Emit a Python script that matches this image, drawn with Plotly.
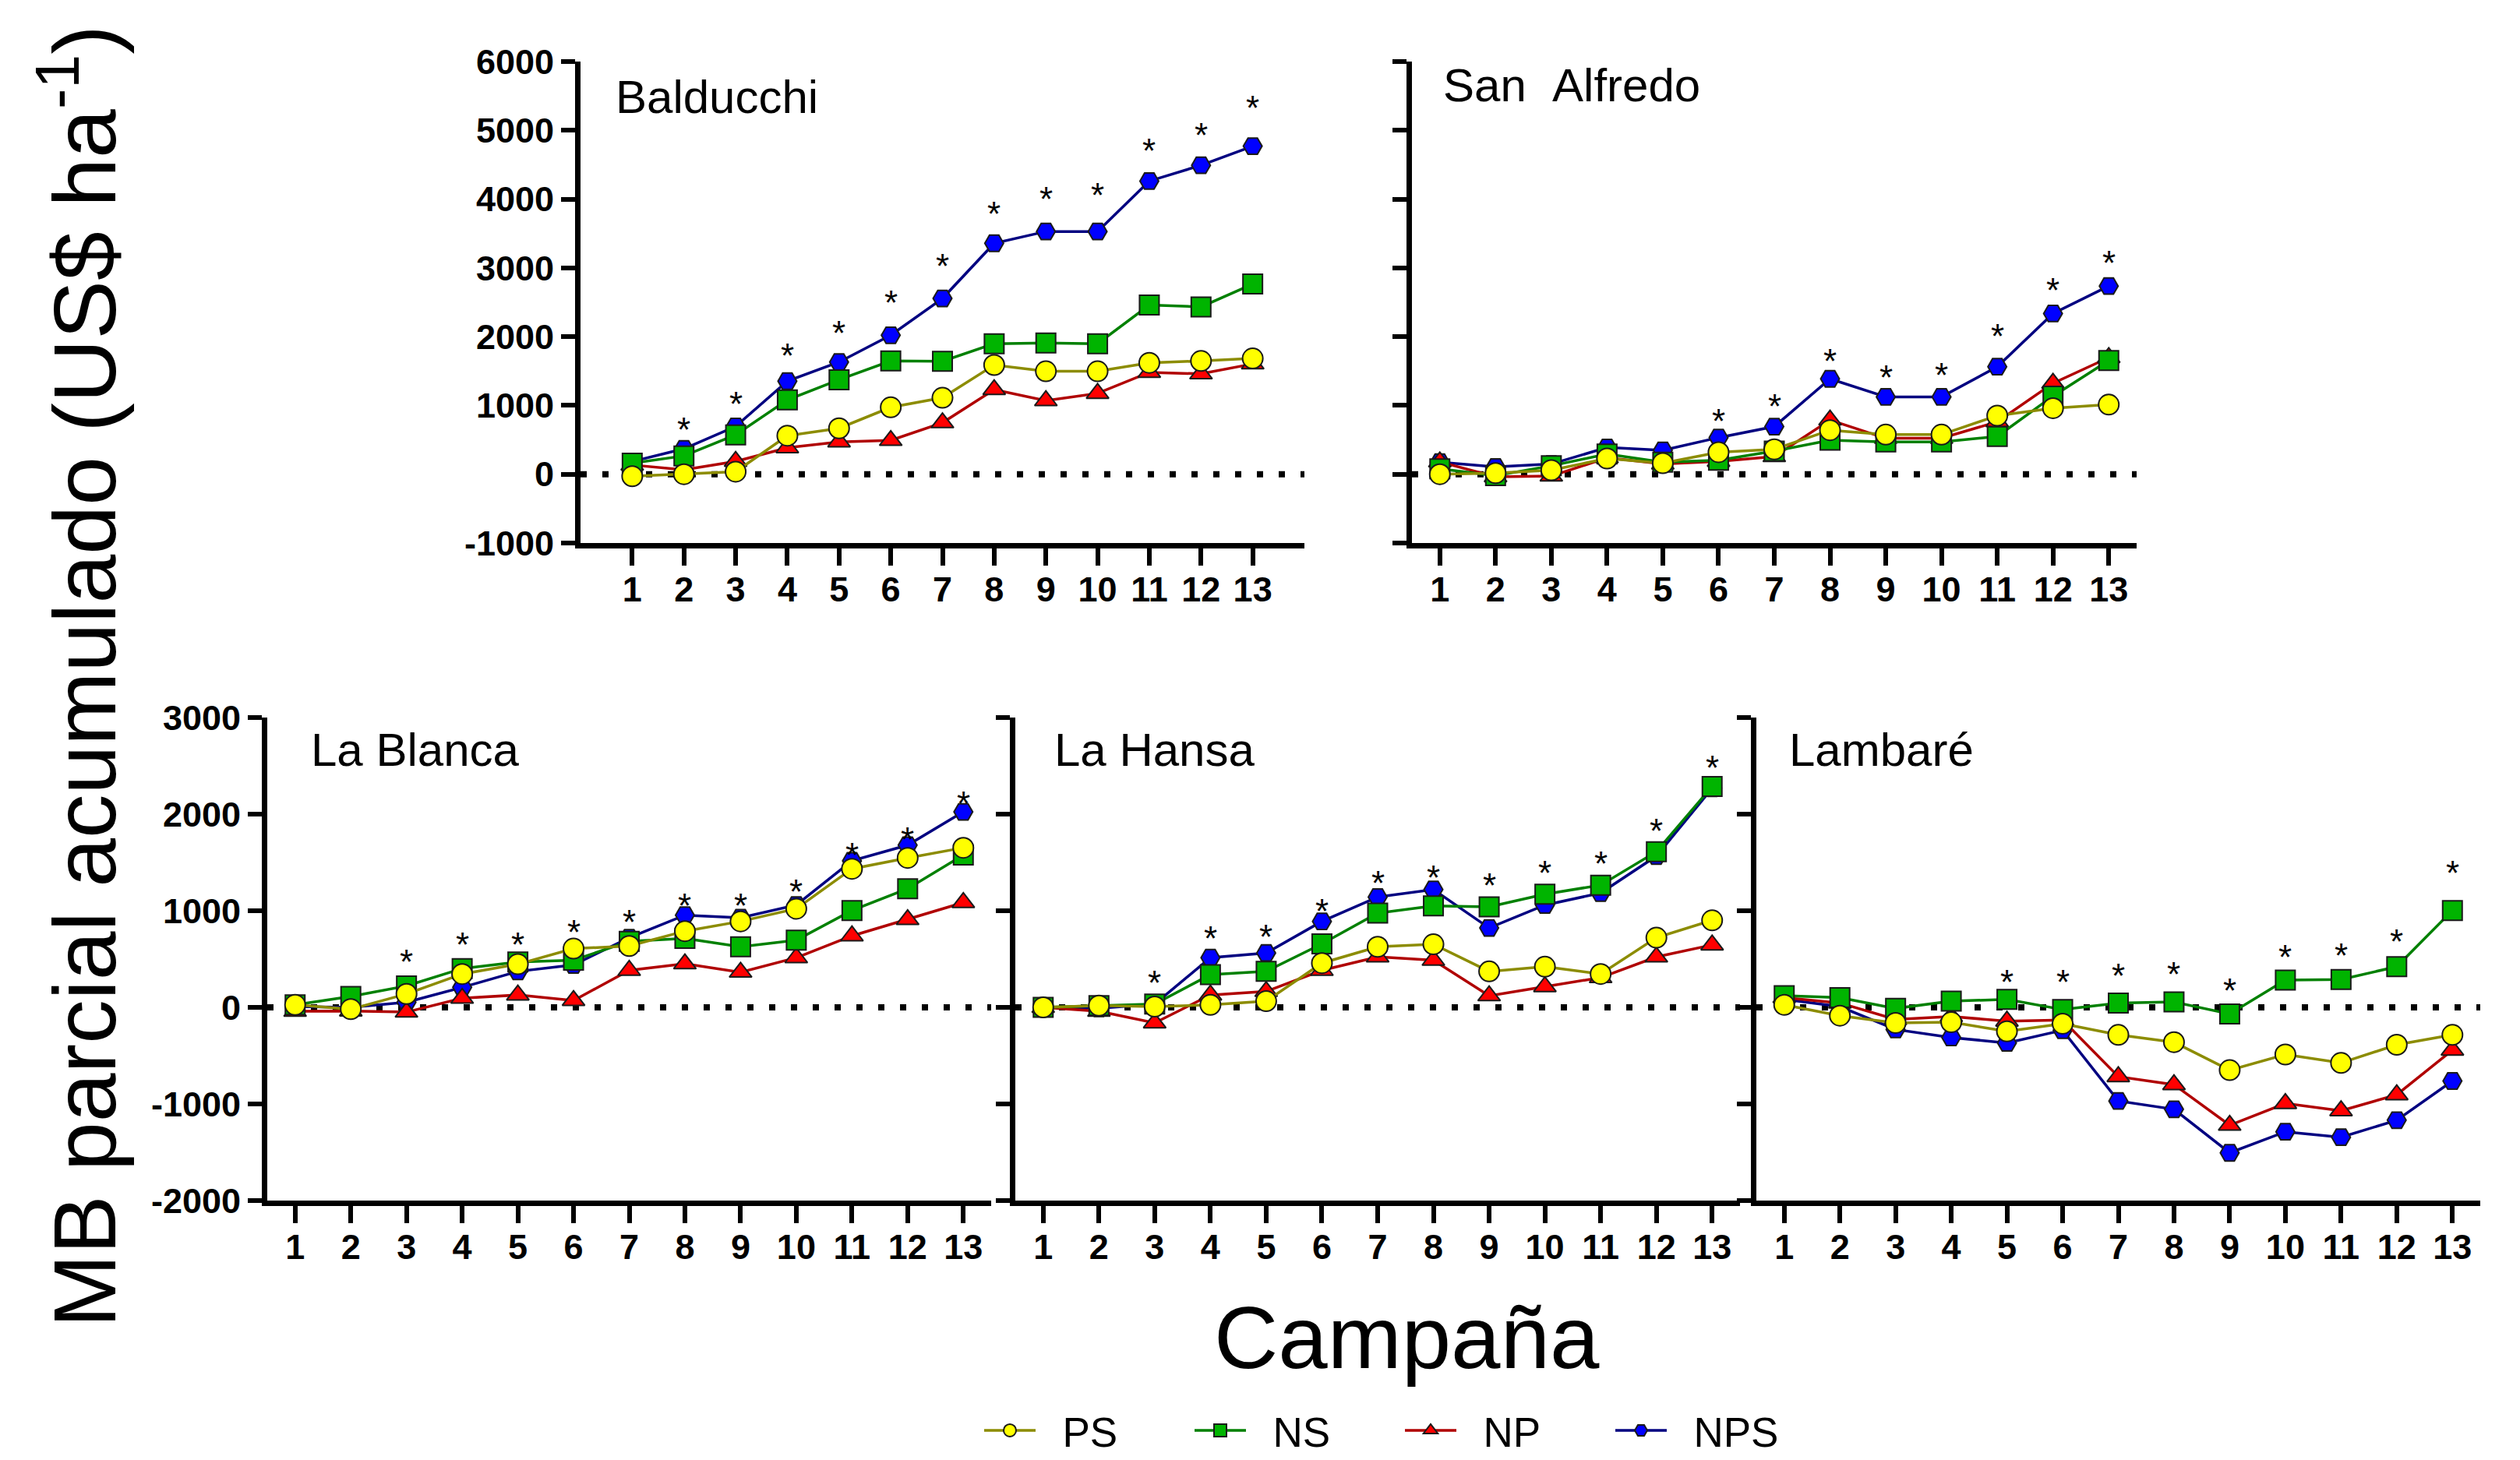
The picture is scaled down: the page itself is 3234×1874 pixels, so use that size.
import plotly.graph_objects as go

# ---------------- data ----------------
campana = list(range(1, 14))

top_yticks = [-1000, 0, 1000, 2000, 3000, 4000, 5000, 6000]
bottom_yticks = [-2000, -1000, 0, 1000, 2000, 3000]

# Balducchi
bal_PS = [-30, 0, 37, 561, 668, 973, 1112, 1588, 1497, 1497, 1620, 1647, 1684]
bal_NS = [160, 267, 572, 1080, 1374, 1647, 1642, 1898, 1909, 1898, 2460, 2433, 2765]
bal_NP = [134, 64, 187, 385, 470, 492, 749, 1230, 1070, 1176, 1481, 1460, 1604]
bal_NPS = [185, 370, 695, 1353, 1631, 2021, 2556, 3358, 3529, 3529, 4262, 4492, 4770]
bal_star_x = [2, 3, 4, 5, 6, 7, 8, 9, 10, 11, 12, 13]
bal_star_y = [765, 1134, 1834, 2166, 2604, 3144, 3904, 4118, 4176, 4813, 5043, 5444]

# San Alfredo
sa_PS = [0, 16, 59, 229, 160, 320, 363, 640, 576, 576, 853, 960, 1013]
sa_NS = [80, -21, 123, 293, 176, 203, 336, 496, 469, 469, 549, 1136, 1653]
sa_NP = [180, -37, -27, 240, 149, 187, 256, 789, 523, 523, 763, 1323, 1696]
sa_NPS = [176, 107, 149, 389, 347, 533, 693, 1387, 1125, 1125, 1563, 2336, 2736]
sa_star_x = [6, 7, 8, 9, 10, 11, 12, 13]
sa_star_y = [885, 1099, 1760, 1520, 1552, 2117, 2789, 3189]

# La Blanca
lb_PS = [26, -19, 139, 345, 447, 608, 635, 789, 890, 1021, 1434, 1547, 1652]
lb_NS = [26, 113, 222, 402, 469, 488, 683, 713, 627, 695, 1003, 1228, 1577]
lb_NP = [-41, -38, -49, 94, 128, 71, 383, 451, 364, 514, 740, 909, 1085]
lb_NPS = [8, 0, 53, 207, 372, 439, 721, 954, 928, 1059, 1517, 1679, 2024]
lb_star_x = [3, 4, 5, 6, 7, 8, 9, 10, 11, 12, 13]
lb_star_y = [552, 728, 728, 860, 965, 1134, 1134, 1277, 1660, 1817, 2186]

# La Hansa
lh_PS = [0, 19, 8, 26, 64, 458, 627, 653, 372, 421, 345, 721, 901]
lh_NS = [0, 19, 34, 338, 372, 657, 976, 1051, 1040, 1172, 1265, 1611, 2287]
lh_NP = [0, -41, -161, 128, 165, 383, 522, 488, 120, 214, 308, 522, 646]
lh_NPS = [0, -11, 34, 514, 563, 890, 1142, 1220, 822, 1059, 1183, 1566, 2268]
lh_star_x = [3, 4, 5, 6, 7, 8, 9, 10, 11, 12, 13]
lh_star_y = [338, 796, 807, 1078, 1371, 1423, 1341, 1472, 1566, 1904, 2561]

# Lambaré
lm_PS = [26, -86, -161, -154, -248, -169, -285, -360, -650, -488, -575, -387, -285]
lm_NS = [120, 101, -11, 64, 83, -23, 45, 56, -68, 282, 289, 421, 1003]
lm_NP = [101, 45, -124, -94, -143, -131, -717, -800, -1220, -995, -1070, -905, -443]
lm_NPS = [83, 8, -229, -312, -368, -237, -969, -1055, -1506, -1288, -1344, -1168, -762]
lm_star_x = [5, 6, 7, 8, 9, 10, 11, 12, 13]
lm_star_y = [345, 345, 409, 421, 252, 601, 620, 759, 1472]

# ---------------- layout helpers ----------------
OFF = 8  # default body margin of the html page
W, H = 3234, 1874


def fx(p):
    return (p - OFF) / W


def fy(p):
    return 1 - (p - OFF) / H


FONT = "Liberation Sans, Arial, sans-serif"

panels = [
    dict(title="Balducchi", PS=bal_PS, NS=bal_NS, NP=bal_NP, NPS=bal_NPS,
         sx=bal_star_x, sy=bal_star_y, xd=(745, 1674), yd=(697, 79),
         xr=[0, 14], yt=top_yticks, labels=True, tpos=(788, 124)),
    dict(title="San\u00a0\u00a0Alfredo", PS=sa_PS, NS=sa_NS, NP=sa_NP, NPS=sa_NPS,
         sx=sa_star_x, sy=sa_star_y, xd=(1812, 2742), yd=(697, 79),
         xr=[0.5, 13.5], yt=top_yticks, labels=False, tpos=(1850, 110)),
    dict(title="La Blanca", PS=lb_PS, NS=lb_NS, NP=lb_NP, NPS=lb_NPS,
         sx=lb_star_x, sy=lb_star_y, xd=(343, 1272), yd=(1541, 921),
         xr=[0.5, 13.5], yt=bottom_yticks, labels=True, tpos=(397, 962)),
    dict(title="La Hansa", PS=lh_PS, NS=lh_NS, NP=lh_NP, NPS=lh_NPS,
         sx=lh_star_x, sy=lh_star_y, xd=(1303, 2233), yd=(1541, 921),
         xr=[0.5, 13.5], yt=bottom_yticks, labels=False, tpos=(1351, 962)),
    dict(title="Lambaré", PS=lm_PS, NS=lm_NS, NP=lm_NP, NPS=lm_NPS,
         sx=lm_star_x, sy=lm_star_y, xd=(2254, 3183), yd=(1541, 921),
         xr=[0.5, 13.5], yt=bottom_yticks, labels=False, tpos=(2294, 962)),
]

# drawing order bottom->top: NPS, NP, NS, PS
series = [
    dict(key="NPS", line="#000080", fill="#0000ff", symbol="hexagon2", size=24, rank=4),
    dict(key="NP", line="#b00000", fill="#ff0000", symbol="triangle-up", size=25, rank=3),
    dict(key="NS", line="#008000", fill="#00b400", symbol="square", size=25, rank=2),
    dict(key="PS", line="#8c8c00", fill="#ffff00", symbol="circle", size=26, rank=1),
]

fig = go.Figure()
annotations = []
shapes = []
layout = {}

for i, p in enumerate(panels, start=1):
    sfx = "" if i == 1 else str(i)
    xa, ya = "x" + sfx, "y" + sfx
    for s in series:
        fig.add_trace(go.Scatter(
            x=campana, y=p[s["key"]], xaxis=xa, yaxis=ya,
            mode="lines+markers", name="\u00a0\u00a0" + s["key"],
            showlegend=(i == 1), legendrank=s["rank"],
            line=dict(color=s["line"], width=3.5),
            marker=dict(symbol=s["symbol"], size=s["size"], color=s["fill"],
                        line=dict(color="#1a1a1a", width=2)),
            cliponaxis=False,
        ))
    layout["xaxis" + sfx] = dict(
        domain=[fx(p["xd"][0]), fx(p["xd"][1])], range=p["xr"], anchor=ya,
        tickvals=campana, ticktext=[str(c) for c in campana],
        ticks="outside", ticklen=22, tickwidth=6, tickcolor="black",
        ticklabelstandoff=-8,
        showline=True, linewidth=7, linecolor="black",
        showgrid=False, zeroline=False,
        tickfont=dict(family=FONT, size=45, color="black", weight="bold"),
    )
    layout["yaxis" + sfx] = dict(
        domain=[fy(p["yd"][0]), fy(p["yd"][1])],
        range=[p["yt"][0], p["yt"][-1]], anchor=xa,
        tickvals=p["yt"], ticktext=[str(v) for v in p["yt"]],
        showticklabels=p["labels"],
        ticks="outside", ticklen=18, tickwidth=6, tickcolor="black",
        showline=True, linewidth=7, linecolor="black",
        showgrid=False, zeroline=False,
        tickfont=dict(family=FONT, size=45, color="black", weight="bold"),
    )
    shapes.append(dict(
        type="line", xref=xa + " domain", x0=0, x1=1, yref=ya, y0=0, y1=0,
        line=dict(color="black", width=8, dash="8px,20px"), layer="below",
    ))
    annotations.append(dict(
        text=p["title"], xref="paper", yref="paper",
        x=fx(p["tpos"][0]), y=fy(p["tpos"][1]), xanchor="left", yanchor="middle",
        showarrow=False, font=dict(family=FONT, size=60, color="black"),
    ))
    for sx, sy in zip(p["sx"], p["sy"]):
        annotations.append(dict(
            text="*", xref=xa, yref=ya, x=sx, y=sy, showarrow=False,
            yshift=-10, font=dict(family=FONT, size=44, color="black"),
        ))

annotations.append(dict(
    text="MB parcial acumulado (US$ ha<sup>-1</sup>)", xref="paper", yref="paper",
    x=fx(100), y=fy(868), xanchor="center", yanchor="middle", textangle=-90,
    showarrow=False, font=dict(family=FONT, size=113, color="black"),
))
annotations.append(dict(
    text="Campaña", xref="paper", yref="paper",
    x=fx(1805), y=fy(1716), xanchor="center", yanchor="middle",
    showarrow=False, font=dict(family=FONT, size=114, color="black"),
))

fig.update_layout(
    width=W, height=H,
    margin=dict(l=0, r=0, t=0, b=0, autoexpand=False),
    paper_bgcolor="white", plot_bgcolor="white",
    showlegend=True,
    legend=dict(orientation="h", x=fx(1258), y=fy(1836), xanchor="left", yanchor="middle",
                font=dict(family=FONT, size=53, color="black"),
                entrywidth=189, entrywidthmode="pixels", itemwidth=66,
                bgcolor="rgba(0,0,0,0)"),
    annotations=annotations, shapes=shapes,
    **layout,
)

fig.write_html("out.html")
